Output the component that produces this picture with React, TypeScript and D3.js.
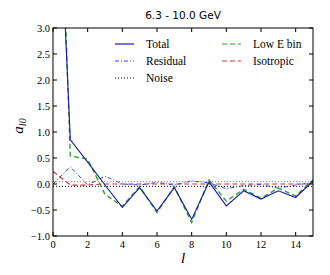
import React from "react";
import * as d3 from "d3";

const ells = [0, 1, 2, 3, 4, 5, 6, 7, 8, 9, 10, 11, 12, 13, 14, 15];
const total = [8.3, 0.85, 0.42, -0.02, -0.45, -0.07, -0.52, -0.07, -0.68, 0.04, -0.42, -0.13, -0.29, -0.13, -0.26, 0.06];
const lowE = [10, 0.54, 0.48, -0.2, -0.43, -0.05, -0.55, -0.05, -0.74, 0.08, -0.33, -0.1, -0.27, -0.08, -0.23, 0.08];
const residual = [0.0, 0.33, -0.02, 0.15, 0.0, -0.02, 0.03, -0.02, 0.06, 0.02, -0.09, -0.03, -0.01, -0.08, -0.02, 0.03];
const isotropic = [0.24, -0.02, -0.02, 0.0, 0.0, 0.0, 0.0, 0.0, 0.0, 0.0, 0.0, 0.0, 0.0, 0.0, 0.0, 0.0];
const noiseHi = [0.045, 0.045, 0.045, 0.045, 0.045, 0.045, 0.045, 0.045, 0.045, 0.045, 0.045, 0.045, 0.045, 0.045, 0.045, 0.045];
const noiseLo = [-0.045, -0.045, -0.045, -0.045, -0.045, -0.045, -0.045, -0.045, -0.045, -0.045, -0.045, -0.045, -0.045, -0.045, -0.045, -0.045];
const xTicks = [0, 2, 4, 6, 8, 10, 12, 14];
const yTicks = [-1.0, -0.5, 0.0, 0.5, 1.0, 1.5, 2.0, 2.5, 3.0];

const W = 330, H = 275;
const left = 53, right = 313, top = 28, bottom = 236;
const serif = "'Liberation Serif', 'DejaVu Serif', serif";

export default function App() {
  const x = d3.scaleLinear().domain([0, 15]).range([left, right]);
  const y = d3.scaleLinear().domain([-1, 3]).range([bottom, top]);
  const line = (vals: number[]) =>
    d3.line<number>().x((_, i) => x(ells[i])).y((d) => y(d))(vals) || "";

  const series = [
    { vals: noiseHi, color: "#888888", dash: "1,2", w: 1 },
    { vals: noiseLo, color: "#000000", dash: "1,2", w: 1 },
    { vals: isotropic, color: "#cc3333", dash: "5,3", w: 1.2 },
    { vals: residual, color: "#3344ee", dash: "4,2,1,2", w: 1 },
    { vals: lowE, color: "#33a033", dash: "5,3", w: 1.4 },
    { vals: total, color: "#1a1aa6", dash: "", w: 1.1 },
  ];

  const legend = [
    { label: "Total", color: "#1a1aa6", dash: "", lx: 115, ly: 44 },
    { label: "Residual", color: "#3344ee", dash: "4,2,1,2", lx: 115, ly: 61 },
    { label: "Noise", color: "#000000", dash: "1,2", lx: 115, ly: 78 },
    { label: "Low E bin", color: "#33a033", dash: "5,3", lx: 222, ly: 44 },
    { label: "Isotropic", color: "#cc3333", dash: "5,3", lx: 222, ly: 61 },
  ];

  return (
    <svg width={W} height={H} style={{ position: "absolute", left: 0, top: 0 }}>
      <rect width={W} height={H} fill="#fff" />
      <defs>
        <clipPath id="plot">
          <rect x={left} y={top} width={right - left} height={bottom - top} />
        </clipPath>
      </defs>
      <text x={(left + right) / 2} y={19} textAnchor="middle" fontFamily="'DejaVu Sans', sans-serif" fontSize={10.5}>
        6.3 - 10.0 GeV
      </text>
      <g clipPath="url(#plot)">
        {series.map((s, i) => (
          <path key={i} d={line(s.vals)} fill="none" stroke={s.color} strokeWidth={s.w} strokeDasharray={s.dash} />
        ))}
      </g>
      {legend.map((l) => (
        <g key={l.label}>
          <line x1={l.lx} x2={l.lx + 19} y1={l.ly} y2={l.ly} stroke={l.color} strokeWidth={1.2} strokeDasharray={l.dash} />
          <text x={l.lx + 31} y={l.ly + 4} fontFamily={serif} fontSize={11.5}>
            {l.label}
          </text>
        </g>
      ))}
      <rect x={left} y={top} width={right - left} height={bottom - top} fill="none" stroke="#000" strokeWidth={1} />
      {xTicks.map((t) => (
        <g key={"x" + t}>
          <line x1={x(t)} x2={x(t)} y1={bottom} y2={bottom - 4} stroke="#000" />
          <line x1={x(t)} x2={x(t)} y1={top} y2={top + 4} stroke="#000" />
          <text x={x(t)} y={bottom + 12} textAnchor="middle" fontFamily={serif} fontSize={10.5}>
            {t}
          </text>
        </g>
      ))}
      {yTicks.map((t) => (
        <g key={"y" + t}>
          <line x1={left} x2={left + 4} y1={y(t)} y2={y(t)} stroke="#000" />
          <line x1={right} x2={right - 4} y1={y(t)} y2={y(t)} stroke="#000" />
          <text x={left - 3} y={y(t) + 3.5} textAnchor="end" fontFamily={serif} fontSize={10.5}>
            {(t < 0 ? "\u2212" : "") + Math.abs(t).toFixed(1)}
          </text>
        </g>
      ))}
      <text x={(left + right) / 2} y={263} textAnchor="middle" fontFamily={serif} fontStyle="italic" fontSize={15}>
        l
      </text>
      <text transform={`translate(23, 126) rotate(-90)`} textAnchor="middle" fontFamily={serif} fontStyle="italic" fontSize={15}>
        a<tspan fontSize={10} dy={3}>l0</tspan>
      </text>
    </svg>
  );
}
